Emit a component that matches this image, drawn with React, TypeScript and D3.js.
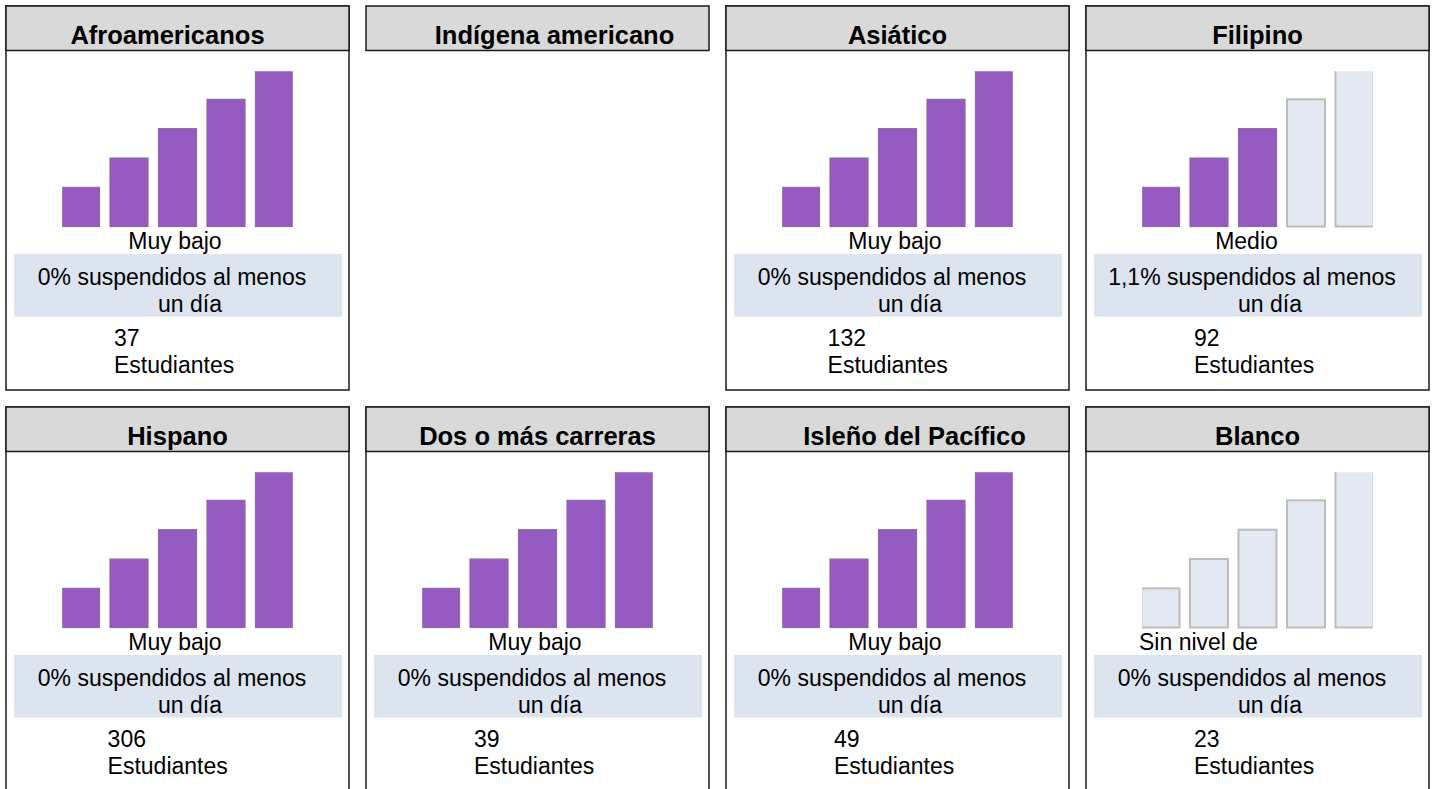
import React from "react";
import * as d3 from "d3";

// ---- data ----
const groups = [
  "Afroamericanos",
  "Indígena americano",
  "Asiático",
  "Filipino",
  "Hispano",
  "Dos o más carreras",
  "Isleño del Pacífico",
  "Blanco",
];
const levelLabels: (string | null)[] = [
  "Muy bajo", null, "Muy bajo", "Medio", "Muy bajo", "Muy bajo", "Muy bajo", "Sin nivel de",
];
const filledCounts = [5, 0, 5, 3, 5, 5, 5, 0];
const suspendedPct: (string | null)[] = ["0%", null, "0%", "1,1%", "0%", "0%", "0%", "0%"];
const students: (number | null)[] = [37, null, 132, 92, 306, 39, 49, 23];
const hasData = [true, false, true, true, true, true, true, true];
const barLevels = ["1", "2", "3", "4", "5"];
const barValues = [4, 7, 10, 13, 16];

// ---- layout ----
const W = 1435;
const H = 789;
const PH = 384;
const HEADER_H = 44.5;
const headerShift = [-10, 17, 0, 0, 0, 0, 17, 0];
const FONT = "'Liberation Sans', Arial, Helvetica, sans-serif";
const PURPLE = "#955bc1";
const EMPTY_FILL = "#e4e9f1";
const EMPTY_STROKE = "#bcbcbc";
const BLUE = "#dbe4ef";
const HEADER_FILL = "#d9d9d9";

const colScale = d3.scaleBand<number>().domain([0, 1, 2, 3]).range([6, 1429]).paddingInner(17 / 360).paddingOuter(0);
const rowScale = d3.scaleBand<number>().domain([0, 1]).range([6, 6 + 401 * 2]).paddingInner(0).paddingOuter(0);
const PW = colScale.bandwidth();

const xBar = d3.scaleBand<string>().domain(barLevels).range([55, 288]).paddingInner(0.196).paddingOuter(0);
const yBar = d3.scaleLinear().domain([0, d3.max(barValues) as number]).range([220.5, 64]);

function levelPos(label: string, cx: number): { x: number; anchor: "middle" | "start" } {
  if (label === "Sin nivel de") return { x: 53, anchor: "start" };
  if (label === "Medio") return { x: cx - 11, anchor: "middle" };
  return { x: cx - 2.5, anchor: "middle" };
}

function Panel({ i }: { i: number }) {
  const left = colScale(i % 4) as number;
  const top = rowScale(Math.floor(i / 4)) as number;
  const cx = PW / 2;
  const clipId = `clip-${i}`;
  const n = students[i];
  const digits = n === null ? 0 : String(n).length;
  const numLeft = cx - 50.7 - 6.4 * digits;
  const x0 = xBar("1") as number;
  const x1 = (xBar("5") as number) + xBar.bandwidth();
  const yTop = yBar(d3.max(barValues) as number);
  return (
    <g transform={`translate(${left},${top})`}>
      {hasData[i] && (
        <rect x={0} y={0} width={PW} height={PH} fill="#fff" stroke="#1a1a1a" strokeWidth={1.5} />
      )}
      <rect x={0} y={0} width={PW} height={HEADER_H} fill={HEADER_FILL} stroke="#1a1a1a" strokeWidth={1.5} />
      <text
        x={cx + headerShift[i]}
        y={37.5}
        textAnchor="middle"
        fontFamily={FONT}
        fontWeight="bold"
        fontSize={25.5}
        fill="#000"
      >
        {groups[i]}
      </text>
      {hasData[i] && (
        <g>
          <defs>
            <clipPath id={clipId}>
              <rect x={x0 + 1.2} y={yTop + 1.2} width={x1 - x0 - 2.4} height={yBar(0) - yTop + 1} />
            </clipPath>
          </defs>
          <g clipPath={`url(#${clipId})`}>
            {barLevels.map((lv, k) => {
              const filled = k < filledCounts[i];
              return (
                <rect
                  key={lv}
                  x={(xBar(lv) as number) + 0.5}
                  y={yBar(barValues[k])}
                  width={xBar.bandwidth() - 1}
                  height={yBar(0) - yBar(barValues[k])}
                  fill={filled ? PURPLE : EMPTY_FILL}
                  stroke={filled ? "#8c6aa3" : EMPTY_STROKE}
                  strokeWidth={filled ? 1.2 : 2}
                />
              );
            })}
          </g>
          {(() => {
            const lab = levelLabels[i] as string;
            const p = levelPos(lab, cx);
            return (
              <text x={p.x} y={243} textAnchor={p.anchor} fontFamily={FONT} fontSize={23} fill="#000">
                {lab}
              </text>
            );
          })()}
          <rect x={8} y={248} width={328} height={62.5} fill={BLUE} />
          <text x={cx - 5.5} y={279} textAnchor="middle" fontFamily={FONT} fontSize={23} fill="#000">
            {`${suspendedPct[i]} suspendidos al menos`}
          </text>
          <text x={cx + 12.5} y={305.5} textAnchor="middle" fontFamily={FONT} fontSize={23} fill="#000">
            un día
          </text>
          <text x={numLeft} y={340} fontFamily={FONT} fontSize={23} fill="#000">
            {n}
          </text>
          <text x={numLeft} y={366.5} fontFamily={FONT} fontSize={23} fill="#000">
            Estudiantes
          </text>
        </g>
      )}
    </g>
  );
}

export default function App() {
  return (
    <svg
      width={W}
      height={H}
      viewBox={`0 0 ${W} ${H}`}
      style={{ position: "absolute", left: 0, top: 0, background: "#fff", overflow: "hidden" }}
    >
      <rect x={0} y={0} width={W} height={H} fill="#fff" />
      {groups.map((_, i) => (
        <Panel key={i} i={i} />
      ))}
    </svg>
  );
}
